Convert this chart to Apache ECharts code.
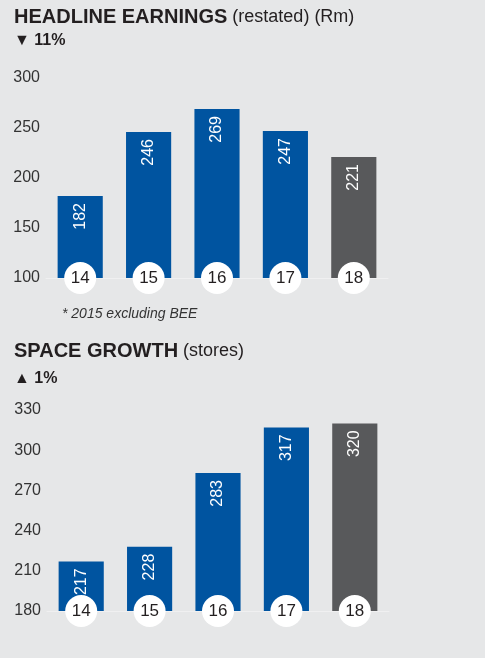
<!DOCTYPE html>
<html>
<head>
<meta charset="utf-8">
<script src="https://cdn.jsdelivr.net/npm/echarts@6/dist/echarts.min.js"></script>
<style>
html,body{margin:0;padding:0;background:#e6e7e8;}
#c{width:485px;height:658px;}
</style>
</head>
<body>
<div id="c"></div>
<script>
var years = ['14', '15', '16', '17', '18'];
var earnings = [182, 246, 269, 247, 221];
var stores = [217, 228, 283, 317, 320];
var earningsTicks = {min: 100, max: 300, interval: 50};
var storesTicks = {min: 180, max: 330, interval: 30};

var BLUE = '#0054a0', GREY = '#58595b', DARK = '#231f20';
var FONT = 'Liberation Sans';

function colored(arr) {
  return arr.map(function (v, i) {
    return {value: v, itemStyle: {color: i === arr.length - 1 ? GREY : BLUE}};
  });
}

function xAx(gi) {
  return {
    type: 'category', gridIndex: gi, data: years, z: 10,
    axisTick: {show: false},
    axisLine: {show: true, lineStyle: {color: '#f0f0f1', width: 1}},
    axisLabel: {
      margin: -16, fontFamily: FONT, fontSize: 17, color: DARK,
      backgroundColor: '#ffffff', width: 32, height: 32, lineHeight: 32,
      borderRadius: 16, align: 'center', verticalAlign: 'top'
    }
  };
}
function yAx(gi, t) {
  return {
    type: 'value', gridIndex: gi, min: t.min, max: t.max, interval: t.interval,
    splitLine: {show: false}, axisLine: {show: false}, axisTick: {show: false},
    axisLabel: {margin: 6, fontFamily: FONT, fontSize: 16, color: '#333333',
      padding: [6, 0, 0, 0]}
  };
}
function barSeries(i, data) {
  return {
    type: 'bar', xAxisIndex: i, yAxisIndex: i, data: colored(data),
    barWidth: '66%',
    label: {
      show: true, position: 'insideTop', rotate: 90, distance: 7,
      align: 'right', verticalAlign: 'middle',
      color: '#ffffff', fontFamily: FONT, fontSize: 16
    }
  };
}

var chart = echarts.init(document.getElementById('c'));
chart.setOption({
  backgroundColor: '#e6e7e8',
  animation: false,
  title: [
    {text: '{b|HEADLINE EARNINGS} {n|(restated) (Rm)}', left: 9, top: 2,
      textStyle: {rich: {
        b: {fontFamily: FONT, fontWeight: 'bold', fontSize: 20, color: DARK},
        n: {fontFamily: FONT, fontWeight: 'normal', fontSize: 18, color: DARK}
      }}},
    {text: '▼ 11%', left: 9, top: 28,
      textStyle: {fontFamily: FONT, fontWeight: 'bold', fontSize: 16, color: DARK}},
    {text: '* 2015 excluding BEE', left: 57, top: 302,
      textStyle: {fontFamily: FONT, fontStyle: 'italic', fontWeight: 'normal', fontSize: 14, color: '#333333'}},
    {text: '{b|SPACE GROWTH} {n|(stores)}', left: 9, top: 336,
      textStyle: {rich: {
        b: {fontFamily: FONT, fontWeight: 'bold', fontSize: 20, color: DARK},
        n: {fontFamily: FONT, fontWeight: 'normal', fontSize: 18, color: DARK}
      }}},
    {text: '▲ 1%', left: 9, top: 366,
      textStyle: {fontFamily: FONT, fontWeight: 'bold', fontSize: 16, color: DARK}}
  ],
  grid: [
    {left: 46, width: 342, top: 78, height: 200},
    {left: 47, width: 342, top: 410, height: 201}
  ],
  xAxis: [xAx(0), xAx(1)],
  yAxis: [yAx(0, earningsTicks), yAx(1, storesTicks)],
  series: [barSeries(0, earnings), barSeries(1, stores)]
});
</script>
</body>
</html>
